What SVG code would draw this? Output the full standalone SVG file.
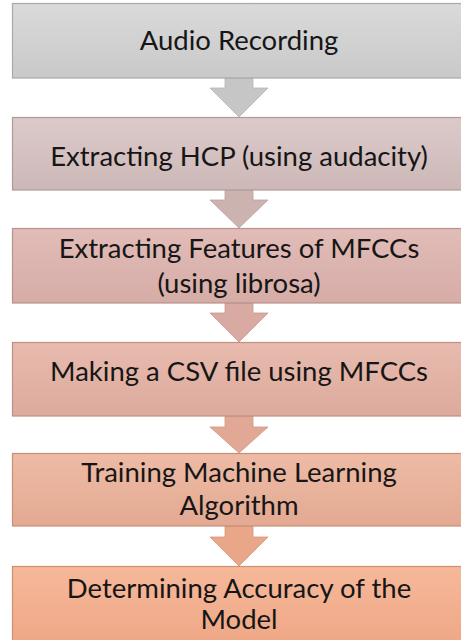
<svg xmlns="http://www.w3.org/2000/svg" width="461" height="640" viewBox="0 0 461 640">
  <defs>
    <linearGradient id="g1" x1="0" y1="0" x2="0" y2="1"><stop offset="0" stop-color="#dadada"/><stop offset="1" stop-color="#c9c9c9"/></linearGradient>
    <linearGradient id="g2" x1="0" y1="0" x2="0" y2="1"><stop offset="0" stop-color="#dccaca"/><stop offset="1" stop-color="#cdb8b7"/></linearGradient>
    <linearGradient id="g3" x1="0" y1="0" x2="0" y2="1"><stop offset="0" stop-color="#e2bcb8"/><stop offset="1" stop-color="#d6aca6"/></linearGradient>
    <linearGradient id="g4" x1="0" y1="0" x2="0" y2="1"><stop offset="0" stop-color="#e8bbae"/><stop offset="1" stop-color="#dcaa9c"/></linearGradient>
    <linearGradient id="g5" x1="0" y1="0" x2="0" y2="1"><stop offset="0" stop-color="#eebba5"/><stop offset="1" stop-color="#e3a992"/></linearGradient>
    <linearGradient id="g6" x1="0" y1="0" x2="0" y2="1"><stop offset="0" stop-color="#f6b89a"/><stop offset="1" stop-color="#eea785"/></linearGradient>
  </defs>
  <style>
    .box { stroke-width: 1.2; }
    .lbl { font-family: "Lato", "Open Sans", sans-serif; font-size: 27.5px; fill: #161616; text-anchor: middle; }
    .arr { stroke-width: 0.8; }
  </style>
  <g id="connectors">
    <path class="arr" d="M225,78 L253,78 L253,88 L268,88 L239,117 L210,88 L225,88 Z" fill="#c6c6c6" stroke="#b5b5b5"/>
    <path class="arr" d="M225,190 L253,190 L253,200 L268,200 L239,228 L210,200 L225,200 Z" fill="#cdb3b0" stroke="#bba19e"/>
    <path class="arr" d="M225,303 L253,303 L253,313 L268,313 L239,342 L210,313 L225,313 Z" fill="#d9aaa2" stroke="#c79890"/>
    <path class="arr" d="M225,416 L253,416 L253,427 L268,427 L239,453 L210,427 L225,427 Z" fill="#e1a995" stroke="#cf9783"/>
    <path class="arr" d="M225,526 L253,526 L253,537 L268,537 L239,566 L210,537 L225,537 Z" fill="#eaa689" stroke="#d89477"/>
  </g>
  <g id="n1">
    <rect class="box" x="12.5" y="3.5" width="460" height="74.5" fill="url(#g1)" stroke="#a9a9a9"/>
    <text class="lbl" x="239" y="50">Audio Recording</text>
  </g>
  <g id="n2">
    <rect class="box" x="12.5" y="117.5" width="460" height="72.5" fill="url(#g2)" stroke="#ad9a99"/>
    <text class="lbl" x="239" y="166">Extracting HCP (using audacity)</text>
  </g>
  <g id="n3">
    <rect class="box" x="12.5" y="228.5" width="460" height="74.5" fill="url(#g3)" stroke="#b8928d"/>
    <text class="lbl" x="239" y="258">Extracting Features of MFCCs</text>
    <text class="lbl" x="239" y="293">(using librosa)</text>
  </g>
  <g id="n4">
    <rect class="box" x="12.5" y="342.5" width="460" height="73.5" fill="url(#g4)" stroke="#bf9082"/>
    <text class="lbl" x="239" y="381">Making a CSV file using MFCCs</text>
  </g>
  <g id="n5">
    <rect class="box" x="12.5" y="453.5" width="460" height="72.5" fill="url(#g5)" stroke="#c68f79"/>
    <text class="lbl" x="239" y="482">Training Machine Learning</text>
    <text class="lbl" x="239" y="515">Algorithm</text>
  </g>
  <g id="n6">
    <rect class="box" x="12.5" y="566.5" width="460" height="80" fill="url(#g6)" stroke="#cf8f70"/>
    <text class="lbl" x="239" y="598">Determining Accuracy of the</text>
    <text class="lbl" x="239" y="629">Model</text>
  </g>
</svg>
